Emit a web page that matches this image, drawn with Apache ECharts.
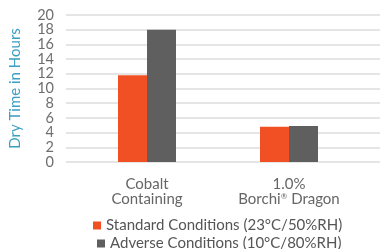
<!DOCTYPE html>
<html>
<head>
<meta charset="utf-8">
<script src="https://cdn.jsdelivr.net/npm/echarts@6/dist/echarts.min.js"></script>
<style>
  html, body { margin: 0; padding: 0; background: #fff; }
  #chart { width: 380px; height: 249px; }
</style>
</head>
<body>
<div id="chart"></div>
<script>
const categories = ['Cobalt\nContaining', '1.0%\nBorchi® Dragon']
const standard = [11.8, 4.8]
const adverse = [18.0, 4.9]
const seriesNames = ['Standard Conditions (23°C/50%RH)', 'Adverse Conditions (10°C/80%RH)']

const font = 'Lato, "Open Sans", sans-serif'
const tickLabel = { color: '#6e6e6e', fontSize: 14.5, fontFamily: font, margin: 12, showMinLabel: true, showMaxLabel: true }
const chart = echarts.init(document.getElementById('chart'))

chart.setOption({
  animation: false,
  textStyle: { fontFamily: font },
  grid: [
    { left: 65, right: 0, top: 15, bottom: 87 },
    { left: 76, right: 20, top: 15, bottom: 87 }
  ],
  legend: [
    {
      data: [seriesNames[0]],
      left: 88, top: 213,
      itemWidth: 8, itemHeight: 8, itemGap: 0,
      icon: 'rect',
      textStyle: { fontFamily: font, fontSize: 15, color: '#555' }
    },
    {
      data: [seriesNames[1]],
      left: 92, top: 231,
      itemWidth: 8, itemHeight: 8, itemGap: 0,
      icon: 'rect',
      textStyle: { fontFamily: font, fontSize: 15, color: '#555' }
    }
  ],
  xAxis: [
    { type: 'value', gridIndex: 0, show: false },
    {
      type: 'category',
      gridIndex: 1,
      data: categories,
      axisLine: { show: false },
      axisTick: { show: false },
      axisLabel: {
        interval: 0,
        margin: 15,
        formatter: (v) => v.split('\n').map(l => l.split('®').map(p => '{n|' + p + '}').join('{sup|®}')).join('\n'),
        rich: {
          n: { fontSize: 15, color: '#666', fontFamily: font, lineHeight: 15 },
          sup: { fontSize: 8, color: '#666', fontFamily: font, lineHeight: 15, verticalAlign: 'top', padding: [0, 0, 7, 0] }
        }
      }
    }
  ],
  yAxis: [
    {
      // grid lines every 2 h, labels 2, 6, 10, 14, 18
      type: 'value',
      gridIndex: 0,
      min: 0,
      max: 20,
      interval: 2,
      name: 'Dry Time in Hours',
      nameLocation: 'middle',
      nameGap: 43,
      nameTextStyle: { color: '#3c9fc3', fontSize: 15, fontFamily: font },
      axisLine: { show: false },
      axisTick: { show: false },
      axisLabel: Object.assign({}, tickLabel, { formatter: (v) => (v % 4 === 2 ? String(v) : '') }),
      splitLine: { lineStyle: { color: '#dcdcdc', width: 1.5 } }
    },
    { type: 'value', gridIndex: 1, min: 0, max: 20, show: false },
    {
      // labels 0, 4, 8, ... 20
      type: 'value',
      gridIndex: 0,
      position: 'left',
      offset: 0,
      min: 0,
      max: 20,
      interval: 4,
      axisLine: { show: false },
      axisTick: { show: false },
      splitLine: { show: false },
      axisLabel: tickLabel
    }
  ],
  series: [
    {
      name: seriesNames[0],
      type: 'bar',
      xAxisIndex: 1,
      yAxisIndex: 1,
      data: standard,
      barWidth: 29,
      barGap: 0,
      itemStyle: { color: '#f05023' }
    },
    {
      name: seriesNames[1],
      type: 'bar',
      xAxisIndex: 1,
      yAxisIndex: 1,
      data: adverse,
      barWidth: 29,
      barGap: 0,
      itemStyle: { color: '#5e5f5e' }
    }
  ]
})
</script>
</body>
</html>
